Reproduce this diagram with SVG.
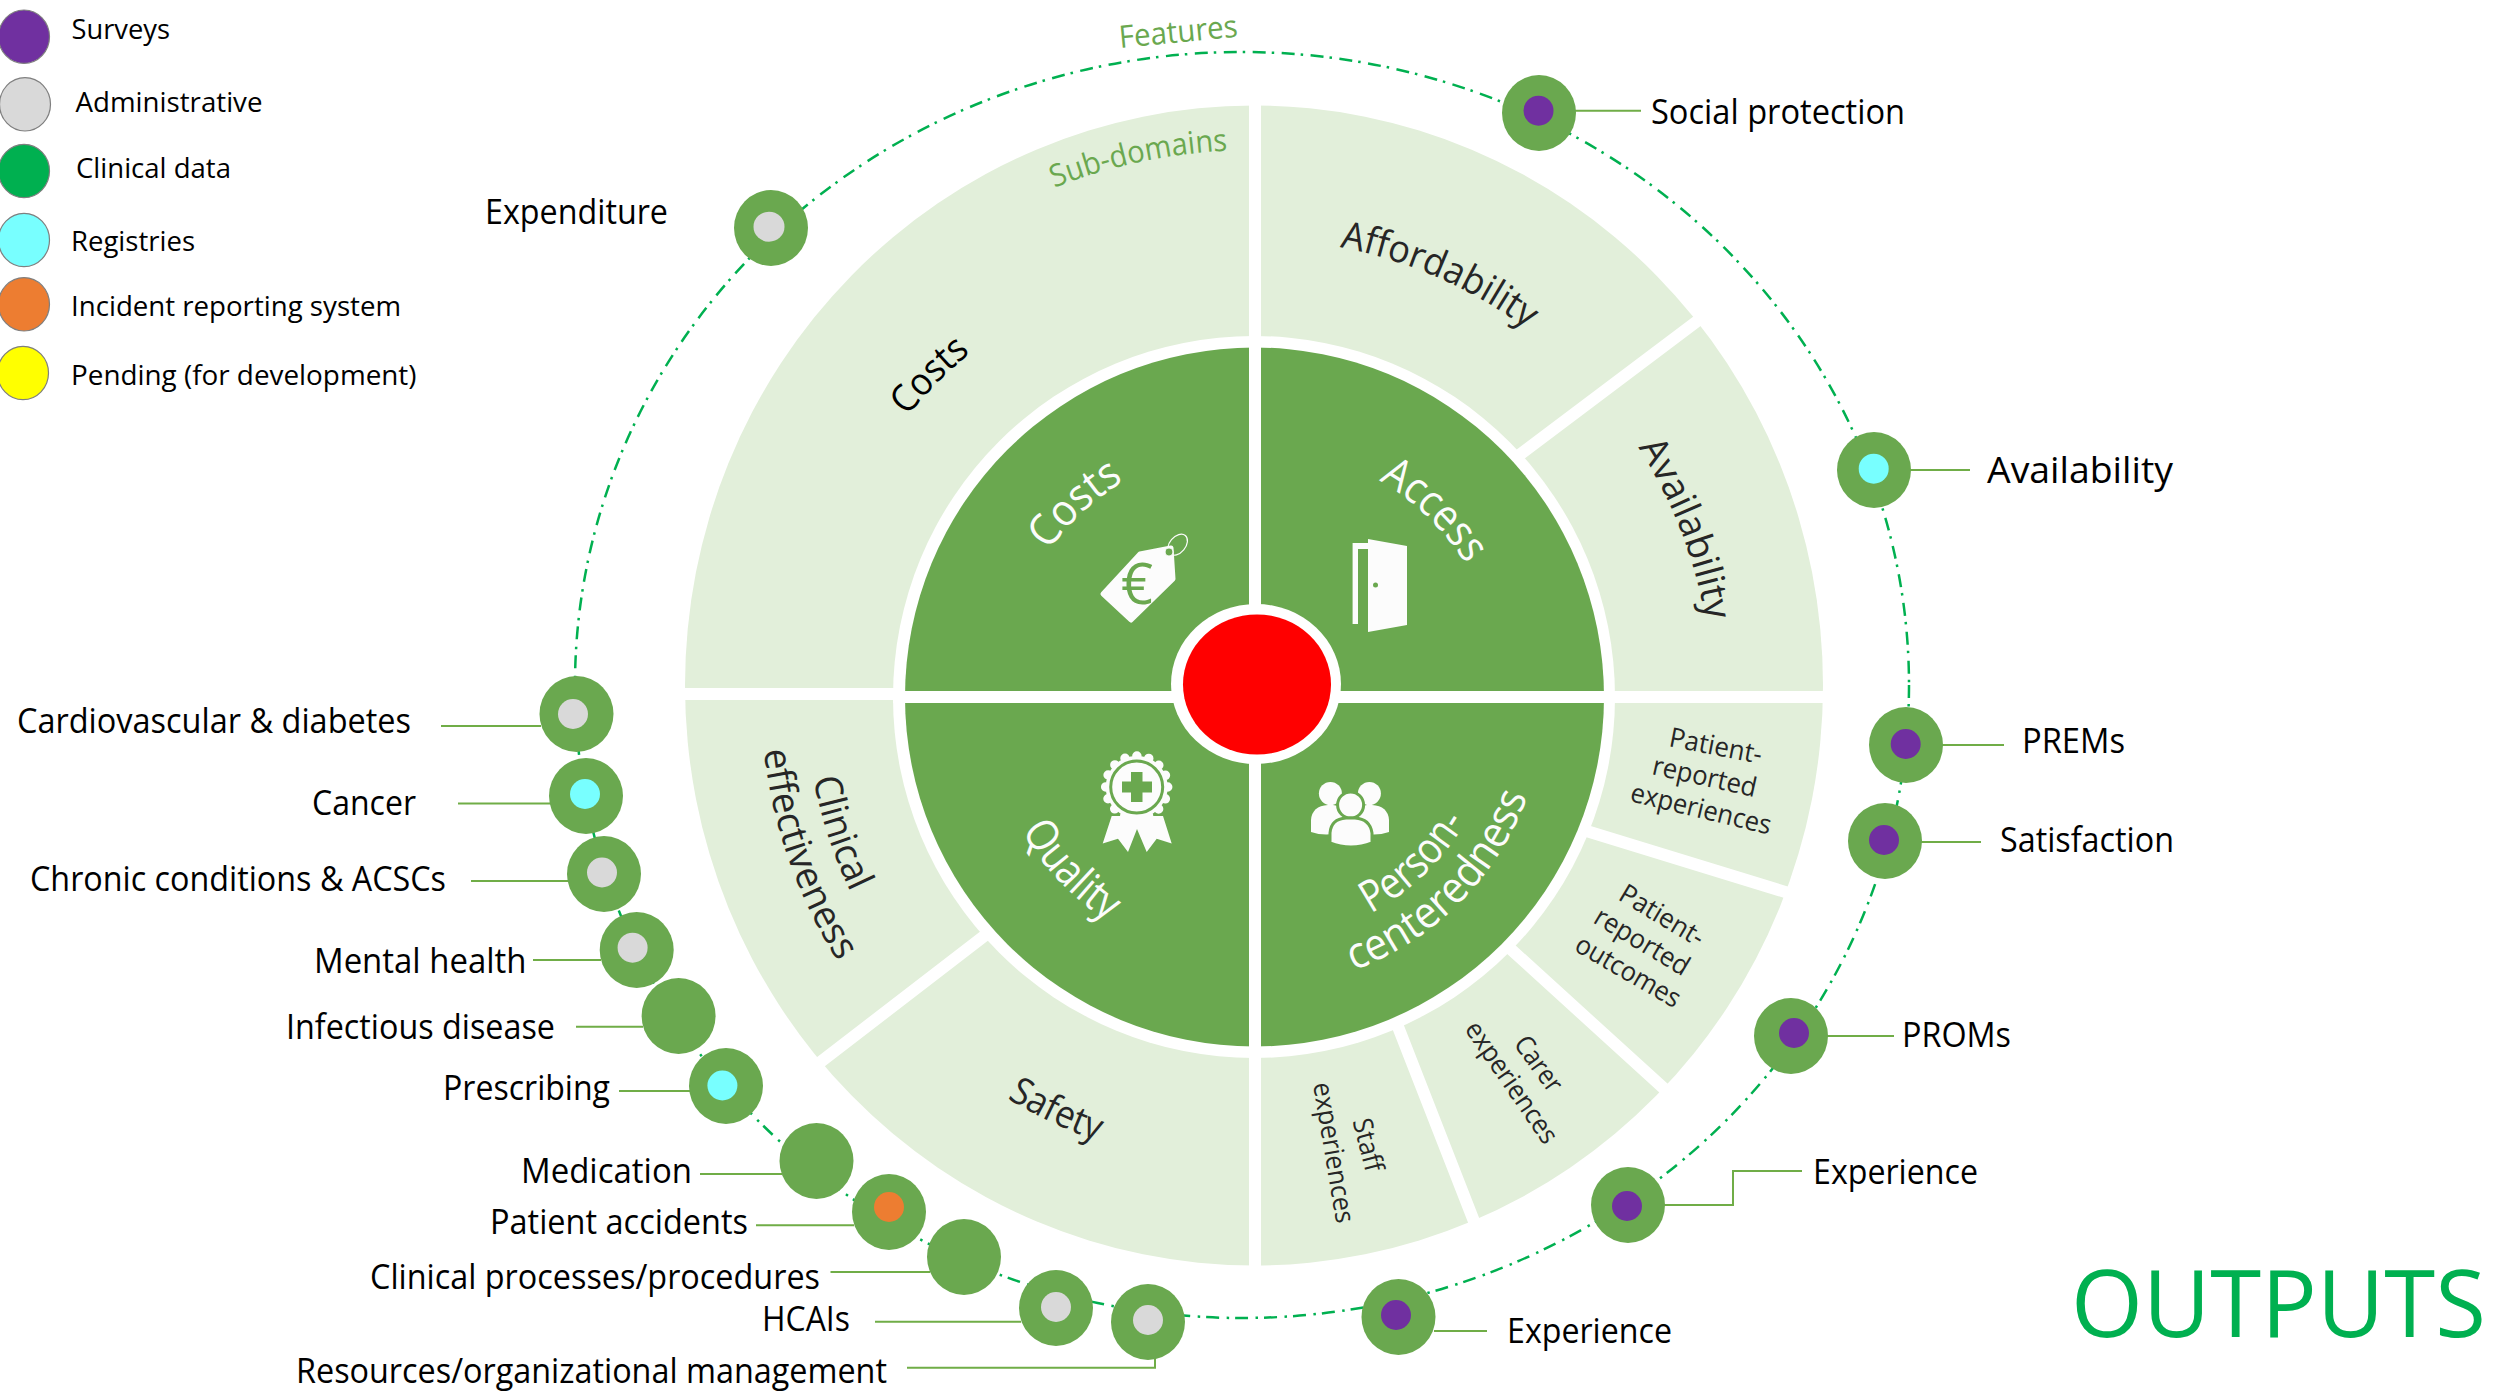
<svg xmlns="http://www.w3.org/2000/svg" width="2496" height="1397" viewBox="0 0 2496 1397">
<style>
text{font-family:"Open Sans","Noto Sans","Liberation Sans",sans-serif;fill:#000}
.g{fill:#6AA84F}.w{fill:#FCFCFC}
.sur{fill:#7030A0}.adm{fill:#D9D9D9}.reg{fill:#78FFFF}.inc{fill:#ED7D31}
.leg{stroke:#7F7F7F;stroke-width:1.2}
.lead{fill:none;stroke:#70AD47;stroke-width:2}
.div{stroke:#fff;stroke-width:12;fill:none}
.sd{fill:#262626;font-size:27px}
.sl{fill:#262626;font-size:38px}
.dom{fill:#FCFCFC;font-size:44px}
.lab{font-size:34px}
.lg{font-size:28px}
.tag{fill:#6AA84F;font-size:31px}
</style>
<defs>
<path id="cw458" d="M1254 239A458 458 0 0 1 1712 697"/>
<path id="cw547" d="M1254 150A547 547 0 0 1 1801 697"/>
<path id="cw446" d="M1254 251A446 446 0 0 1 1700 697"/>
<path id="cw252" d="M1254 445A252 252 0 0 1 1506 697"/>
<path id="cw250" d="M1254 447A250 250 0 0 1 1504 697"/>
<path id="ccw448" d="M1254 1145A448 448 0 0 0 1702 697"/>
<path id="ccw493" d="M1254 1190A493 493 0 0 0 1747 697"/>
<path id="ccw471" d="M1254 1168A471 471 0 0 0 1725 697"/>
<path id="ccw268" d="M1254 965A268 268 0 0 0 1522 697"/>
<path id="ccw246" d="M1254 943A246 246 0 0 0 1500 697"/>
<path id="ccw291" d="M1254 988A291 291 0 0 0 1545 697"/>
<ellipse id="n" rx="37" ry="38" class="g"/>
</defs>
<rect width="2496" height="1397" fill="#fff"/>

<g id="wheel-background">
<ellipse cx="1254" cy="685.500" rx="569" ry="580" fill="#E2EFDA"/>
<path class="div" d="M1255 90V1280M680 694H900M893 697H1835"/>
<path class="div" d="M1704 316L1514 459M1580 829L1795 895M1504 943L1670 1094M1395 1019L1477 1229M992 930L814 1067"/>
<circle cx="1254" cy="697" r="361" fill="#fff"/>
<circle cx="1254.500" cy="697" r="349.500" class="g"/>
<path class="div" d="M1255 340V1055M895 697H1615"/>
<ellipse cx="1256" cy="684" rx="85" ry="80" fill="#fff"/>
</g>
<g id="centre"><ellipse cx="1257" cy="684.500" rx="74" ry="70" fill="#FF0000"/></g>

<g id="domain-costs">
<text class="dom" transform="rotate(-54.500 1254 697)"><textPath href="#cw252" textLength="103" lengthAdjust="spacingAndGlyphs">Costs</textPath></text>
<ellipse cx="1177.600" cy="544.700" rx="12" ry="8" transform="rotate(-50 1177.600 544.700)" fill="none" stroke="#FCFCFC" stroke-width="1.200"/>
<path class="w" stroke="#FCFCFC" stroke-width="5" stroke-linejoin="round" d="M1103 594L1140 554L1171 548L1173 579L1131 620Z"/>
<ellipse cx="1169" cy="552" rx="4" ry="4" class="g" stroke="#FCFCFC" stroke-width="1.200"/>
<text x="1137" y="604" text-anchor="middle" style="fill:#6AA84F;font-size:56px">€</text>
</g>
<g id="domain-access">
<text class="dom" transform="rotate(30 1254 697)"><textPath href="#cw250" textLength="122" lengthAdjust="spacingAndGlyphs">Access</textPath></text>
<path class="w" d="M1352.600 543H1368V549H1358V624H1352.600Z"/>
<path class="w" d="M1368 539L1407 546V625L1368 632Z"/>
<circle cx="1375.500" cy="585" r="2.500" class="g"/>
</g>
<g id="domain-quality">
<text class="dom" transform="rotate(60 1254 697)"><textPath href="#ccw268" textLength="126" lengthAdjust="spacingAndGlyphs">Quality</textPath></text>
<path class="w" d="M1111.700 816L1102.700 843.400L1118 838.800L1128 852L1137 829L1146.700 852L1156.700 838.800L1171.700 843.400L1163 816Z"/>
<circle cx="1136.700" cy="787" r="31" class="w"/>
<circle cx="1136.700" cy="787" r="31" fill="none" stroke="#FCFCFC" stroke-width="9.500" stroke-linecap="round" stroke-dasharray="0 12.170"/>
<circle cx="1136.700" cy="787" r="26" fill="none" stroke="#6AA84F" stroke-width="3"/>
<path class="g" d="M1131 772H1142.500V781.500H1152V792.500H1142.500V802H1131V792.500H1122V781.500H1131Z"/>
</g>
<g id="domain-person-centeredness">
<text class="dom" transform="rotate(-28.300 1254 697)"><textPath href="#ccw246" textLength="134" lengthAdjust="spacingAndGlyphs">Person-</textPath></text>
<text class="dom" transform="rotate(-20 1254 697)"><textPath href="#ccw291" textLength="254" lengthAdjust="spacingAndGlyphs">centeredness</textPath></text>
<circle cx="1330.400" cy="793.500" r="11.500" class="w"/>
<circle cx="1369.400" cy="793.500" r="11.500" class="w"/>
<path class="w" d="M1311 832V820Q1312 806 1328 805H1333Q1344 806 1345 816L1342 832Q1326 837 1311 832Z"/>
<path class="w" d="M1389 832V820Q1388 806 1372 805H1367Q1356 806 1355 816L1358 832Q1374 837 1389 832Z"/>
<circle cx="1350.600" cy="805" r="13" class="w" stroke="#6AA84F" stroke-width="3"/>
<path class="w" stroke="#6AA84F" stroke-width="3" d="M1330 843V833Q1331 819 1346 818H1355Q1370 819 1372 833V843Q1351 851 1330 843Z"/>
</g>

<g id="sub-domains">
<text class="tag" transform="rotate(-21.400 1254 697)"><textPath href="#cw547" textLength="178" lengthAdjust="spacingAndGlyphs">Sub-domains</textPath></text>
<text class="sl" style="fill:#000" transform="rotate(-51 1254 697)"><textPath href="#cw446" textLength="90" lengthAdjust="spacingAndGlyphs">Costs</textPath></text>
<text class="sl" transform="rotate(10.800 1254 697)"><textPath href="#cw458" textLength="206" lengthAdjust="spacingAndGlyphs">Affordability</textPath></text>
<text class="sl" transform="rotate(57 1254 697)"><textPath href="#cw458" textLength="187" lengthAdjust="spacingAndGlyphs">Availability</textPath></text>
<text class="sl" transform="rotate(79.500 1254 697)"><textPath href="#ccw448" textLength="120" lengthAdjust="spacingAndGlyphs">Clinical</textPath></text>
<text class="sl" transform="rotate(83.800 1254 697)"><textPath href="#ccw493" textLength="226" lengthAdjust="spacingAndGlyphs">effectiveness</textPath></text>
<text class="sl" transform="rotate(31.600 1254 697)"><textPath href="#ccw471" textLength="100" lengthAdjust="spacingAndGlyphs">Safety</textPath></text>
<text class="sd" x="1668" y="746" textLength="94" lengthAdjust="spacingAndGlyphs" transform="rotate(11 1668 746)">Patient-</text>
<text class="sd" x="1651" y="774" textLength="106" lengthAdjust="spacingAndGlyphs" transform="rotate(12.600 1651 774)">reported</text>
<text class="sd" x="1629" y="801" textLength="144" lengthAdjust="spacingAndGlyphs" transform="rotate(13.500 1629 801)">experiences</text>
<text class="sd" x="1617" y="899" textLength="94" lengthAdjust="spacingAndGlyphs" transform="rotate(31 1617 899)">Patient-</text>
<text class="sd" x="1592" y="922" textLength="106" lengthAdjust="spacingAndGlyphs" transform="rotate(31 1592 922)">reported</text>
<text class="sd" x="1573" y="950" textLength="117" lengthAdjust="spacingAndGlyphs" transform="rotate(30 1573 950)">outcomes</text>
<text class="sd" x="1513" y="1044" textLength="62" lengthAdjust="spacingAndGlyphs" transform="rotate(54 1513 1044)">Carer</text>
<text class="sd" x="1464" y="1029" textLength="142" lengthAdjust="spacingAndGlyphs" transform="rotate(55.500 1464 1029)">experiences</text>
<text class="sd" x="1352.600" y="1121" textLength="54" lengthAdjust="spacingAndGlyphs" transform="rotate(75.700 1352.600 1121)">Staff</text>
<text class="sd" x="1313" y="1084" textLength="142" lengthAdjust="spacingAndGlyphs" transform="rotate(80.500 1313 1084)">experiences</text>
</g>

<g id="connectors">
<ellipse cx="1242" cy="685" rx="667" ry="633" fill="none" stroke="#00B050" stroke-width="2.500" stroke-dasharray="13 6 2.500 7.500"/>
<path class="lead" d="M441 726H541M458 803.400H551M471 881H568M533 960H601M576 1026.700H643M619 1091H690M700 1174H782M756 1225.300H854M830.500 1272H930M875 1321.700H1021M907 1367.700H1155V1358"/>
<path class="lead" d="M1575 110.700H1641M1910 470H1970M1942 745H2004M1921 842H1981M1826 1036H1894M1663 1205H1733V1171H1802M1434 1331H1487"/>
</g>

<g id="f-expenditure"><use href="#n" x="771" y="228"/><ellipse cx="769" cy="226.700" rx="15.500" ry="15" class="adm"/></g>
<g id="f-social-protection"><use href="#n" x="1539" y="113"/><ellipse cx="1538.500" cy="110.700" rx="15" ry="15" class="sur"/></g>
<g id="f-availability"><use href="#n" x="1874" y="470"/><ellipse cx="1873.700" cy="468.700" rx="15" ry="15" class="reg"/></g>
<g id="f-prems"><use href="#n" x="1906" y="745"/><ellipse cx="1905.700" cy="744" rx="15" ry="15" class="sur"/></g>
<g id="f-satisfaction"><use href="#n" x="1885" y="841"/><ellipse cx="1884" cy="840" rx="15" ry="15" class="sur"/></g>
<g id="f-proms"><use href="#n" x="1791" y="1036"/><ellipse cx="1794" cy="1033" rx="15" ry="15" class="sur"/></g>
<g id="f-experience-1"><use href="#n" x="1628" y="1205"/><ellipse cx="1627" cy="1206" rx="15" ry="15" class="sur"/></g>
<g id="f-experience-2"><use href="#n" x="1398.500" y="1317"/><ellipse cx="1396" cy="1315" rx="15" ry="15" class="sur"/></g>
<g id="f-cardiovascular"><use href="#n" x="576.500" y="714"/><ellipse cx="573" cy="714" rx="15" ry="15" class="adm"/></g>
<g id="f-cancer"><use href="#n" x="586" y="796"/><ellipse cx="585" cy="794" rx="15" ry="15" class="reg"/></g>
<g id="f-chronic"><use href="#n" x="604" y="874"/><ellipse cx="602" cy="872.500" rx="15" ry="15" class="adm"/></g>
<g id="f-mental-health"><use href="#n" x="636.700" y="950"/><ellipse cx="632.600" cy="947.700" rx="15" ry="15" class="adm"/></g>
<g id="f-infectious"><use href="#n" x="678.600" y="1016"/></g>
<g id="f-prescribing"><use href="#n" x="726" y="1086"/><ellipse cx="722.400" cy="1085.500" rx="15" ry="15" class="reg"/></g>
<g id="f-medication"><use href="#n" x="816.500" y="1161"/></g>
<g id="f-patient-accidents"><use href="#n" x="889" y="1212"/><ellipse cx="889" cy="1207" rx="15" ry="15" class="inc"/></g>
<g id="f-clinical-processes"><use href="#n" x="964" y="1257"/></g>
<g id="f-hcais"><use href="#n" x="1056" y="1308"/><ellipse cx="1056" cy="1307" rx="15" ry="15" class="adm"/></g>
<g id="f-resources"><use href="#n" x="1148" y="1322"/><ellipse cx="1148" cy="1320" rx="15" ry="15" class="adm"/></g>

<text class="tag" x="1120" y="48" textLength="119" lengthAdjust="spacingAndGlyphs" transform="rotate(-5.500 1120 48)">Features</text>
<g id="feature-labels" transform="translate(0 1)">
<text class="lab" x="485" y="222.700" textLength="183" lengthAdjust="spacingAndGlyphs">Expenditure</text>
<text class="lab" x="1651" y="123" textLength="254" lengthAdjust="spacingAndGlyphs">Social protection</text>
<text class="lab" style="font-size:37px" x="1987" y="482" textLength="186" lengthAdjust="spacingAndGlyphs">Availability</text>
<text class="lab" x="2022" y="752" textLength="103" lengthAdjust="spacingAndGlyphs">PREMs</text>
<text class="lab" x="2000" y="851" textLength="174" lengthAdjust="spacingAndGlyphs">Satisfaction</text>
<text class="lab" x="1902" y="1046" textLength="109" lengthAdjust="spacingAndGlyphs">PROMs</text>
<text class="lab" x="1813" y="1183" textLength="165" lengthAdjust="spacingAndGlyphs">Experience</text>
<text class="lab" x="1507" y="1342" textLength="165" lengthAdjust="spacingAndGlyphs">Experience</text>
<text class="lab" x="17" y="731.500" textLength="394" lengthAdjust="spacingAndGlyphs">Cardiovascular &amp; diabetes</text>
<text class="lab" x="312" y="814" textLength="104" lengthAdjust="spacingAndGlyphs">Cancer</text>
<text class="lab" x="30" y="890" textLength="416" lengthAdjust="spacingAndGlyphs">Chronic conditions &amp; ACSCs</text>
<text class="lab" x="314" y="972" textLength="212.500" lengthAdjust="spacingAndGlyphs">Mental health</text>
<text class="lab" x="286" y="1038" textLength="269" lengthAdjust="spacingAndGlyphs">Infectious disease</text>
<text class="lab" x="443" y="1098.600" textLength="167" lengthAdjust="spacingAndGlyphs">Prescribing</text>
<text class="lab" x="521" y="1182" textLength="171" lengthAdjust="spacingAndGlyphs">Medication</text>
<text class="lab" x="490" y="1232.600" textLength="258" lengthAdjust="spacingAndGlyphs">Patient accidents</text>
<text class="lab" x="370" y="1288" textLength="450" lengthAdjust="spacingAndGlyphs">Clinical processes/procedures</text>
<text class="lab" x="762" y="1330" textLength="88" lengthAdjust="spacingAndGlyphs">HCAIs</text>
<text class="lab" x="296" y="1381.700" textLength="591" lengthAdjust="spacingAndGlyphs">Resources/organizational management</text>
</g>

<g id="legend">
<g id="legend-surveys"><ellipse class="leg" cx="24" cy="36.700" rx="25.500" ry="26.700" fill="#7030A0"/><text class="lg" x="71.500" y="39" textLength="98.500" lengthAdjust="spacingAndGlyphs">Surveys</text></g>
<g id="legend-administrative"><ellipse class="leg" cx="25" cy="104.300" rx="25.500" ry="26.700" fill="#D9D9D9"/><text class="lg" x="75.500" y="112" textLength="187" lengthAdjust="spacingAndGlyphs">Administrative</text></g>
<g id="legend-clinical"><ellipse class="leg" cx="24" cy="171" rx="25.500" ry="26.700" fill="#00B050"/><text class="lg" x="76" y="178" textLength="155" lengthAdjust="spacingAndGlyphs">Clinical data</text></g>
<g id="legend-registries"><ellipse class="leg" cx="24" cy="240" rx="25.500" ry="26.700" fill="#78FFFF"/><text class="lg" x="71" y="251" textLength="124" lengthAdjust="spacingAndGlyphs">Registries</text></g>
<g id="legend-incident"><ellipse class="leg" cx="24" cy="304.300" rx="25.500" ry="26.700" fill="#ED7D31"/><text class="lg" x="71" y="316" textLength="330" lengthAdjust="spacingAndGlyphs">Incident reporting system</text></g>
<g id="legend-pending"><ellipse class="leg" cx="23" cy="373" rx="25.500" ry="26.700" fill="#FFFF00"/><text class="lg" x="71" y="385" textLength="345.500" lengthAdjust="spacingAndGlyphs">Pending (for development)</text></g>
</g>
<text id="outputs" x="2071" y="1337" textLength="415" lengthAdjust="spacingAndGlyphs" style="fill:#00B050;font-size:94px">OUTPUTS</text>
</svg>
